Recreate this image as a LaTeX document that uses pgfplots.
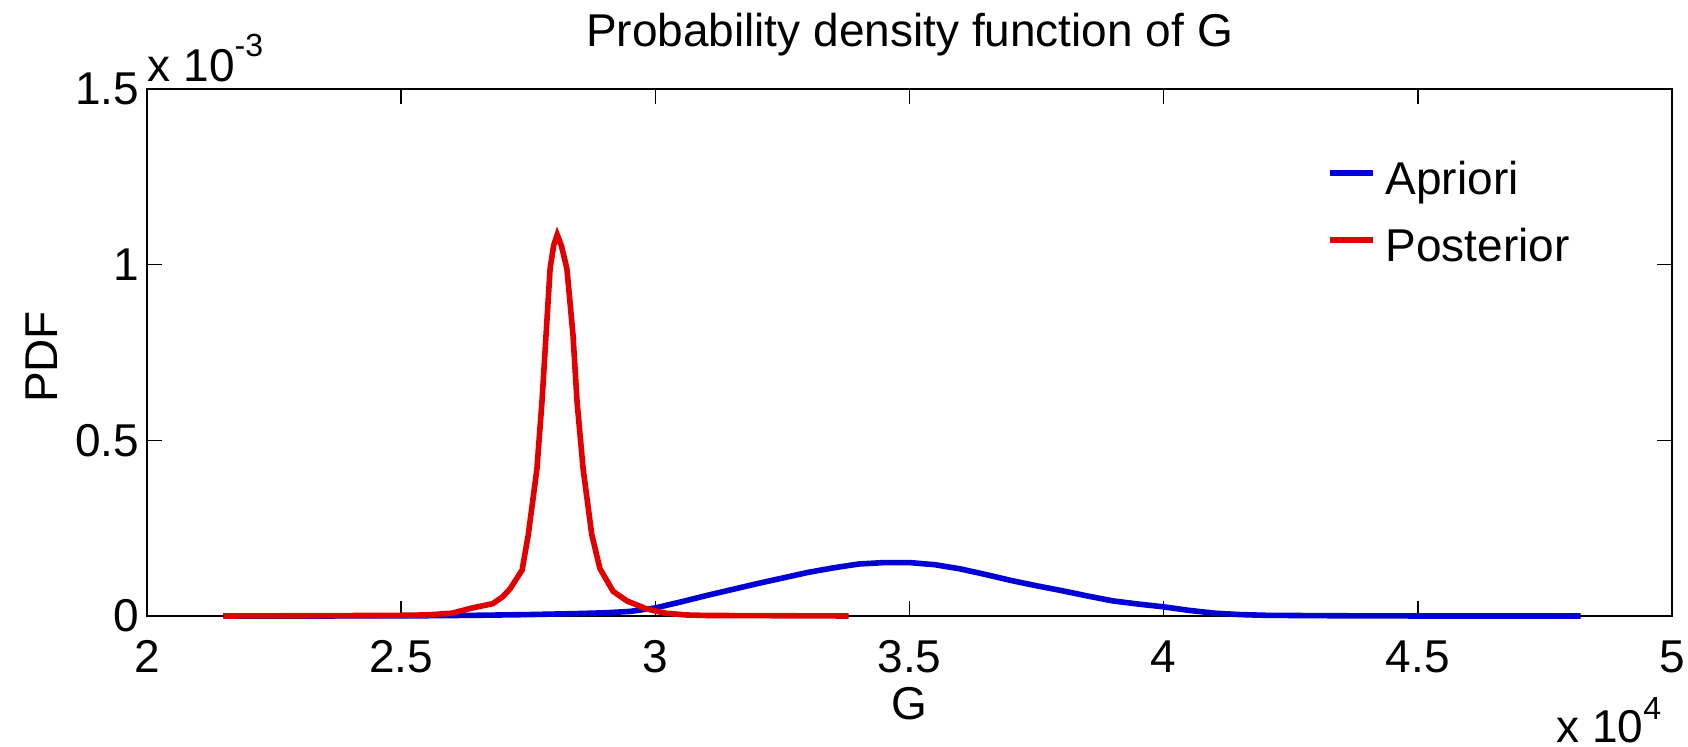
\documentclass[border=0pt]{standalone}
\usepackage{fontspec}
\setmainfont{Liberation Sans}
\usepackage{pgfplots}
\pgfplotsset{compat=1.18}
\definecolor{mblue}{RGB}{0,0,215}
\definecolor{mred}{RGB}{225,0,0}

\pgfplotstableread{
G pdf
21500 0
23000 0
24500 0.0000003
25500 0.0000008
26500 0.000002
27500 0.000004
28500 0.000007
29000 0.000009
29500 0.000013
30000 0.000023
30500 0.000040
31000 0.000058
31500 0.000075
32000 0.000092
32500 0.000108
33000 0.000124
33500 0.000137
34000 0.000148
34500 0.000152
35000 0.000152
35500 0.000146
36000 0.000134
36500 0.000118
37000 0.000101
37500 0.000086
38000 0.000072
38500 0.000057
39000 0.000043
39500 0.000034
40000 0.000026
40500 0.000016
41000 0.000008
41500 0.000004
42000 0.000002
43000 0.000001
44000 0.0000003
45000 0.0000001
46000 0
48200 0
}\apriori

\pgfplotstableread{
G pdf
21500 0
22500 0.0000005
23500 0.000001
24500 0.0000015
25000 0.000002
25500 0.000003
26000 0.000008
26400 0.000023
26800 0.000035
27000 0.000055
27140 0.000077
27380 0.000131
27500 0.000231
27670 0.000418
27770 0.000610
27850 0.000800
27930 0.000989
28000 0.001055
28070 0.001085
28150 0.001055
28260 0.000989
28380 0.000800
28460 0.000610
28580 0.000418
28750 0.000231
28910 0.000135
29170 0.000070
29440 0.000043
29830 0.000020
30200 0.000008
30600 0.000003
31000 0.0000015
32000 0.000001
33800 0
}\posterior

\begin{document}
\fontsize{11.5}{13.8}\selectfont
\begin{tikzpicture}
\begin{axis}[
  scale only axis,
  width=381.25pt, height=131.75pt,
  xmin=20000, xmax=50000, ymin=0, ymax=0.0015,
  scaled ticks=false,
  xtick={20000,25000,30000,35000,40000,45000,50000},
  xticklabels={2,2.5,3,3.5,4,4.5,5},
  ytick={0,0.0005,0.001,0.0015},
  yticklabels={0,0.5,1,1.5},
  /pgf/number format/assume math mode=true,
  tick align=inside,
  major tick length=3.75pt,
  axis line style={line width=0.4pt},
  every tick/.style={black, line width=0.4pt},
  xticklabel style={font=\fontsize{11.5}{13.8}\selectfont, inner sep=0pt, anchor=north, yshift=-6pt},
  yticklabel style={font=\fontsize{11.5}{13.8}\selectfont, inner sep=0pt, anchor=east, xshift=-1.75pt},
  legend cell align=left,
  legend style={at={(rel axis cs:0.7738,0.8824)}, anchor=north west, draw=none, fill=none,
    inner sep=0pt, outer sep=0pt, row sep=5.75pt, column sep=2.5pt,
    font=\fontsize{11.5}{13.8}\selectfont,
    nodes={inner sep=0pt, text height=11pt, text depth=0pt}},
  legend image code/.code={\draw[#1] (0pt,0pt) -- (10.75pt,0pt);},
  clip=false,
]
\addplot[mblue, line width=1.4pt] table[x=G, y=pdf] {\apriori};
\addlegendentry{Apriori}
\addplot[mred, line width=1.4pt] table[x=G, y=pdf] {\posterior};
\addlegendentry{Posterior}

\coordinate (bl) at (rel axis cs:0,0);
\coordinate (tr) at (rel axis cs:1,1);
\node[anchor=base, inner sep=0pt] at ([yshift=10.5pt]rel axis cs:0.5,1) {Probability density function of G};
\node[anchor=base, inner sep=0pt] at ([yshift=-26pt]rel axis cs:0.5,0) {G};
\node[anchor=center, inner sep=0pt, rotate=90] at ([xshift=-26.25pt]rel axis cs:0,0.4915) {PDF};
\node[anchor=base east, inner sep=0pt] at ([xshift=-2.5pt,yshift=-31.5pt]rel axis cs:1,0) {x 10\raisebox{0.5em}{\fontsize{8}{9.5}\selectfont 4}};
\node[anchor=base west, inner sep=0pt] at ([yshift=1.75pt]rel axis cs:0,1) {x 10\raisebox{0.55em}{\fontsize{8}{9.5}\selectfont -3}};
\end{axis}
\pgfresetboundingbox
\path ([shift={(-36.75pt,-32.75pt)}]bl) rectangle ([shift={(4pt,22.25pt)}]tr);
\end{tikzpicture}
\end{document}
